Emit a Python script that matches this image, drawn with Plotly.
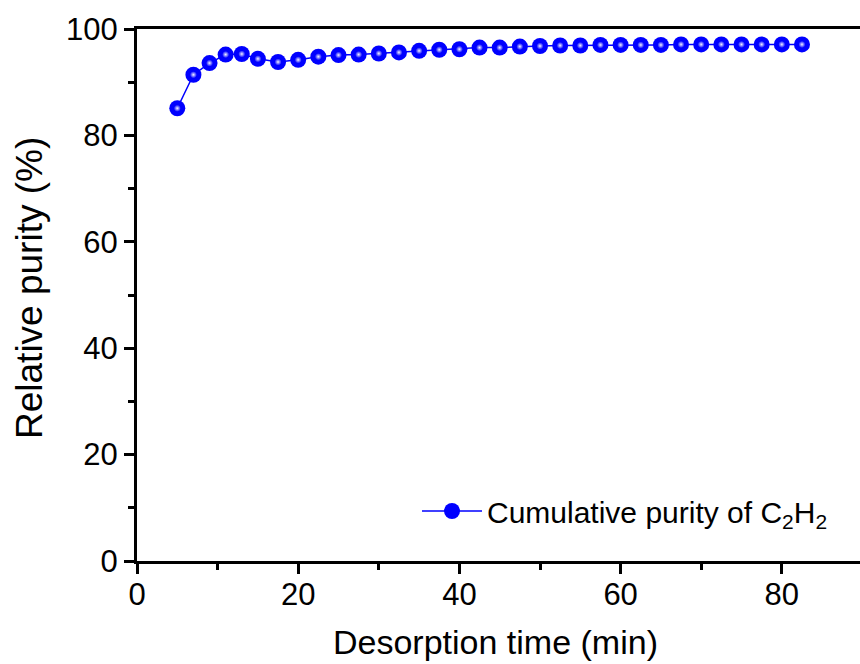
import plotly.graph_objects as go

time_min = [5, 7, 9, 11, 13, 15, 17.5, 20, 22.5, 25, 27.5, 30, 32.5, 35, 37.5, 40,
            42.5, 45, 47.5, 50, 52.5, 55, 57.5, 60, 62.5, 65, 67.5, 70, 72.5, 75,
            77.5, 80, 82.5]
purity = [85.1, 91.4, 93.6, 95.2, 95.3, 94.4, 93.8, 94.2, 94.8, 95.1, 95.2, 95.4,
          95.6, 95.9, 96.1, 96.2, 96.5, 96.5, 96.7, 96.8, 96.9, 96.9, 97.0, 97.0,
          97.0, 97.0, 97.1, 97.1, 97.1, 97.1, 97.1, 97.1, 97.1]
series_name = "Cumulative purity of C<sub>2</sub>H<sub>2</sub>"
x_ticks = [0, 20, 40, 60, 80]
y_ticks = [0, 20, 40, 60, 80, 100]

FONT = "Liberation Sans, Arial, sans-serif"
BLUE = "#0000FF"

fig = go.Figure()
fig.add_trace(go.Scatter(
    x=time_min, y=purity, mode="lines+markers", name=series_name,
    line=dict(color=BLUE, width=1.5),
    marker=dict(size=16, color=BLUE, line=dict(width=0)),
))
fig.add_trace(go.Scatter(
    x=time_min, y=purity, mode="markers", showlegend=False, hoverinfo="skip",
    marker=dict(size=7, color=BLUE, line=dict(width=0),
                gradient=dict(type="radial", color="#F4F4FF")),
))

W, H = 860, 664
L, R, T, B = 137, 0, 29, 103
pw, ph = W - L - R, H - T - B

def px_x(p):
    return (p - L) / pw

def px_y(p):
    return (H - B - p) / ph

fig.update_layout(
    width=W, height=H, autosize=False,
    margin=dict(l=L, r=R, t=T, b=B, pad=0),
    paper_bgcolor="white", plot_bgcolor="white",
    font=dict(family=FONT, color="black"),
    showlegend=True,
    legend=dict(x=px_x(417), y=px_y(511), xanchor="left", yanchor="middle",
                bgcolor="rgba(0,0,0,0)", borderwidth=0,
                font=dict(size=30, family=FONT, color="black"), itemwidth=60),
    xaxis=dict(range=[0, 89.7], tickvals=x_ticks, ticks="outside", ticklen=10,
               tickwidth=2.5, tickcolor="black", showline=True, linewidth=3,
               linecolor="black", mirror=True, showgrid=False, zeroline=False,
               tickfont=dict(size=31, family=FONT), ticklabelstandoff=-6,
               minor=dict(dtick=10, tick0=0, ticks="outside", ticklen=6,
                          tickwidth=2.5, tickcolor="black")),
    yaxis=dict(range=[0, 100], tickvals=y_ticks, ticks="outside", ticklen=10,
               tickwidth=2.5, tickcolor="black", showline=True, linewidth=3,
               linecolor="black", mirror=False, showgrid=False, zeroline=False,
               tickfont=dict(size=31, family=FONT),
               minor=dict(dtick=10, tick0=0, ticks="outside", ticklen=6,
                          tickwidth=2.5, tickcolor="black")),
    annotations=[
        dict(text="Desorption time (min)", xref="paper", yref="paper",
             x=px_x(495), y=px_y(642), xanchor="center", yanchor="middle",
             showarrow=False, font=dict(size=34, family=FONT, color="black")),
        dict(text="Relative purity (%)", xref="paper", yref="paper",
             x=px_x(29), y=px_y(288), xanchor="center", yanchor="middle",
             textangle=-90, showarrow=False,
             font=dict(size=37, family=FONT, color="black")),
    ],
)

fig.write_html("out.html")
